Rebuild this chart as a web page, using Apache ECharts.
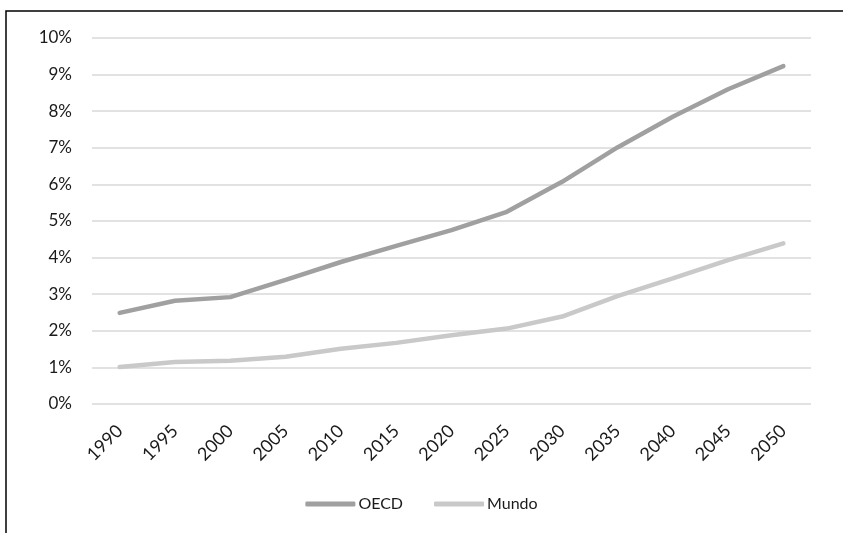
<!DOCTYPE html>
<html>
<head>
<meta charset="utf-8">
<script src="https://cdn.jsdelivr.net/npm/echarts@6/dist/echarts.min.js"></script>
<style>html,body{margin:0;padding:0;background:#fff;}#c{width:843px;height:533px;}</style>
</head>
<body>
<div id="c"></div>
<script>
const years = ['1990','1995','2000','2005','2010','2015','2020','2025','2030','2035','2040','2045','2050'];
const oecd = [2.49, 2.82, 2.92, 3.39, 3.88, 4.32, 4.75, 5.25, 6.07, 7.01, 7.85, 8.6, 9.23];
const mundo = [1.01, 1.15, 1.18, 1.29, 1.51, 1.67, 1.88, 2.06, 2.39, 2.95, 3.43, 3.93, 4.39];
const seriesNames = ['OECD', 'Mundo'];

const chart = echarts.init(document.getElementById('c'), null, {renderer: 'canvas'});
const font = 'Lato, "Noto Sans", sans-serif';
chart.setOption({
  animation: false,
  backgroundColor: '#fff',
  textStyle: {fontFamily: font},
  graphic: [{
    type: 'polyline',
    shape: {points: [[6, 533], [6, 11], [843, 11]]},
    style: {stroke: '#000', lineWidth: 1.5, fill: null},
    silent: true
  }],
  grid: {left: 92, right: 32, top: 38, bottom: 129},
  legend: {
    data: seriesNames,
    bottom: 16,
    left: 'center',
    icon: 'roundRect',
    itemWidth: 50,
    itemHeight: 5,
    itemGap: 31,
    textStyle: {fontSize: 16, color: '#1a1a1a', fontFamily: font, padding: [0, 0, 0, -2]}
  },
  xAxis: {
    type: 'category',
    data: years,
    boundaryGap: true,
    axisLine: {show: false},
    axisTick: {show: false},
    axisLabel: {rotate: 45, fontSize: 18, color: '#1a1a1a', margin: 24, fontFamily: font, interval: 0}
  },
  yAxis: {
    type: 'value',
    min: 0, max: 10, interval: 1,
    axisLabel: {formatter: '{value}%', fontSize: 17, color: '#1a1a1a', margin: 20, fontFamily: font},
    splitLine: {lineStyle: {color: '#d9d9d9', width: 1.5}},
    axisLine: {show: false},
    axisTick: {show: false}
  },
  series: [
    {name: seriesNames[0], type: 'line', data: oecd, symbol: 'none', lineStyle: {width: 4.5, color: '#a0a0a0', cap: 'round'}, itemStyle: {color: '#a0a0a0'}},
    {name: seriesNames[1], type: 'line', data: mundo, symbol: 'none', lineStyle: {width: 4.5, color: '#c9c9c9', cap: 'round'}, itemStyle: {color: '#c9c9c9'}}
  ]
});
</script>
</body>
</html>
